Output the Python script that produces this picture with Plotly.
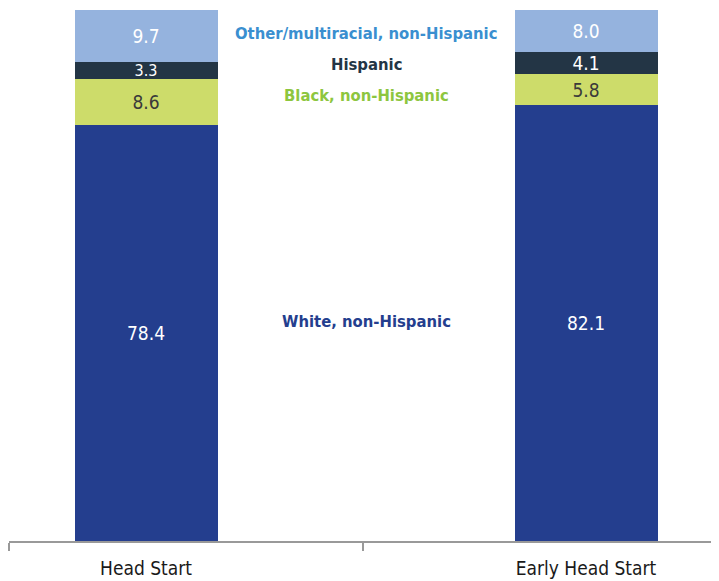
import plotly.graph_objects as go

programs = ["Head Start", "Early Head Start"]
groups = ["White, non-Hispanic", "Black, non-Hispanic", "Hispanic", "Other/multiracial, non-Hispanic"]
white = [78.4, 82.1]
black = [8.6, 5.8]
hispanic = [3.3, 4.1]
other = [9.7, 8.0]

series = [white, black, hispanic, other]
bar_colors = ["#243e8e", "#cddc6a", "#233545", "#95b3de"]
text_colors = ["#ffffff", "#3a3a3a", "#ffffff", "#ffffff"]
text_sizes = [[19, 19], [19, 19], [16, 19], [19, 19]]
label_colors = ["#243e8e", "#8dc63f", "#233545", "#3a8fd0"]
label_yshift = [6, 0, 2, 0]

FONT = "DejaVu Sans Condensed, Liberation Sans Narrow, Roboto, sans-serif"
xpos = [0, 1]

fig = go.Figure()
for vals, col, tcol, tsz, name in zip(series, bar_colors, text_colors, text_sizes, groups):
    fig.add_trace(go.Bar(
        x=xpos, y=vals, name=name,
        marker=dict(color=col, line=dict(width=0)),
        width=0.325,
        text=[f"{v:.1f}" for v in vals],
        textposition="inside", insidetextanchor="middle", constraintext="none",
        textfont=dict(family=FONT, size=tsz, color=tcol),
        hoverinfo="skip",
    ))

# invisible trace to anchor the tick-mark axis
fig.add_trace(go.Scatter(x=[0.5], y=[0], xaxis="x2", mode="markers",
                         marker=dict(opacity=0), showlegend=False, hoverinfo="skip"))

# group labels placed at the middle of the segments (averaged over the bars)
cum = [0.0, 0.0]
for vals, name, lcol, ysh in zip(series, groups, label_colors, label_yshift):
    mids = [c + v / 2 for c, v in zip(cum, vals)]
    cum = [c + v for c, v in zip(cum, vals)]
    fig.add_annotation(x=0.5, y=sum(mids) / len(mids), yshift=ysh, text=f"<b>{name}</b>",
                       showarrow=False, xref="x", yref="y",
                       font=dict(family=FONT, size=16.5, color=lcol))

rng = [-0.3114, 1.2977]
fig.update_layout(
    barmode="stack",
    width=719, height=581,
    margin=dict(l=1, r=10, t=2, b=48, autoexpand=False),
    plot_bgcolor="white", paper_bgcolor="white",
    showlegend=False,
    xaxis=dict(range=rng, tickvals=xpos, ticktext=programs, ticks="outside",
               ticklen=10, tickcolor="rgba(0,0,0,0)", showline=False, showgrid=False,
               zeroline=False, automargin=False,
               tickfont=dict(family=FONT, size=19, color="#1a1a1a")),
    xaxis2=dict(range=rng, overlaying="x", side="bottom", tickvals=[-0.3114, 0.4925, 1.2977],
                ticks="outside", ticklen=8, tickwidth=2, tickcolor="#999999",
                showline=True, linecolor="#999999", linewidth=2, automargin=False,
                showticklabels=False, showgrid=False, zeroline=False),
    yaxis=dict(range=[0, 100], visible=False, showgrid=False, zeroline=False),
)

fig.write_html("out.html")
